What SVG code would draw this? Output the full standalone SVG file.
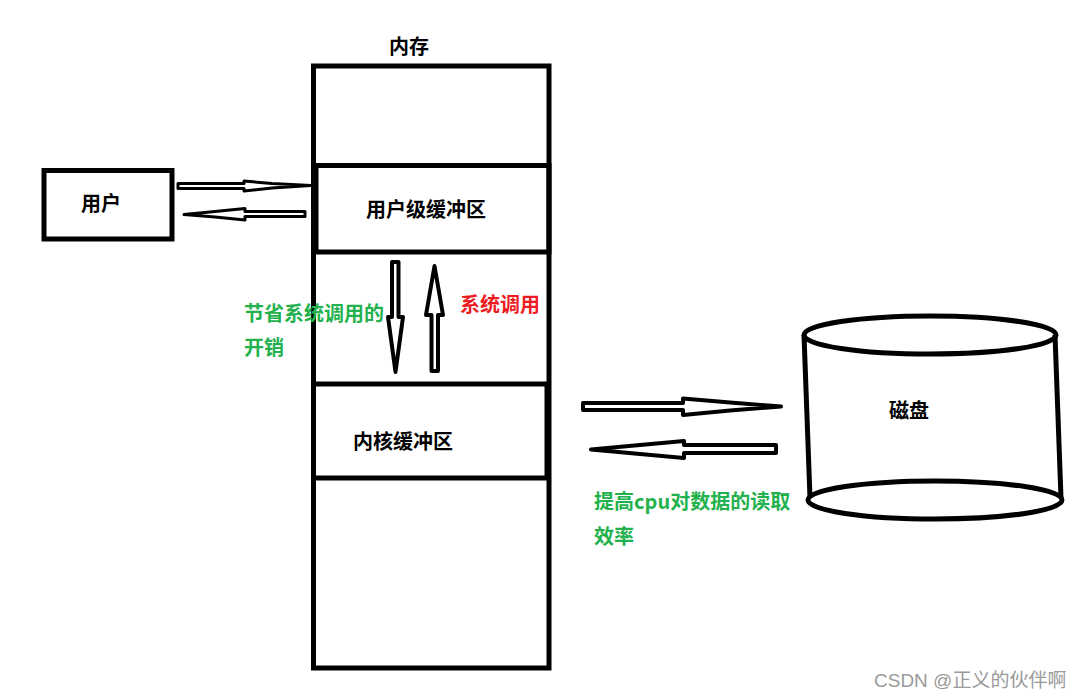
<svg xmlns="http://www.w3.org/2000/svg" width="1081" height="700" viewBox="0 0 1081 700">
<style>
text{font-family:"Noto Sans CJK SC","Liberation Sans",sans-serif;font-weight:700;font-size:20px;fill:#000}
.g{fill:#22b14c}
.r{fill:#ed1c24}
.box{fill:none;stroke:#000;stroke-width:5}
.arr{fill:#fff;stroke:#000;stroke-width:4;stroke-linejoin:round}
.thin{stroke-width:3}
.cyl{fill:none;stroke:#000;stroke-width:5}
</style>
<rect width="1081" height="700" fill="#fff"/>
<g id="memory">
<rect class="box" x="313.500" y="66" width="235.500" height="602"/>
<text x="389" y="54">内存</text>
</g>
<g id="user-buffer">
<rect class="box" x="316" y="165.500" width="233" height="86.500"/>
<text x="366" y="217">用户级缓冲区</text>
</g>
<g id="kernel-buffer">
<rect class="box" x="313.500" y="384" width="233.500" height="94"/>
<text x="353" y="449">内核缓冲区</text>
</g>
<g id="user">
<rect class="box" x="44" y="170.500" width="128" height="68.500"/>
<text x="81" y="211">用户</text>
</g>
<g id="disk">
<ellipse class="cyl" cx="930" cy="335" rx="126" ry="19"/>
<ellipse class="cyl" cx="935" cy="500" rx="127" ry="19"/>
<path class="cyl" d="M804 335L810 498M1055 335L1061 498"/>
<text x="889" y="418">磁盘</text>
</g>
<g id="connectors">
<path class="arr thin" d="M178 183.500H244V181L272 183.500L311 185.500L272 188L244 191V188.500H178Z"/>
<path class="arr thin" d="M305 211.500H245V208.500L215 211.500L184 214.500L215 217L245 220V216.500H305Z"/>
<path class="arr" d="M392 262H398.500V317H403L395.500 372L388 317H392Z"/>
<path class="arr" d="M431.500 371H438V315H443L434.500 266L426 315H431.500Z"/>
<path class="arr" d="M583 403H683V398.500L730 402.500L781 406.500L730 410.500L683 415V410H583Z"/>
<path class="arr" d="M776 445H684V441L640 445L591 449.500L640 454L684 458V453H776Z"/>
</g>
<g id="labels">
<text class="g" x="244" y="321">节省系统调用的</text>
<text class="g" x="244" y="355">开销</text>
<text class="r" x="460" y="312">系统调用</text>
<text class="g" x="594" y="509">提高cpu对数据的读取</text>
<text class="g" x="594" y="544">效率</text>
</g>
<text x="874" y="687" style="font-weight:400;font-size:19px;fill:#9a9a9a;font-family:'Liberation Sans','Noto Sans CJK SC',sans-serif">CSDN @正义的伙伴啊</text>
</svg>
